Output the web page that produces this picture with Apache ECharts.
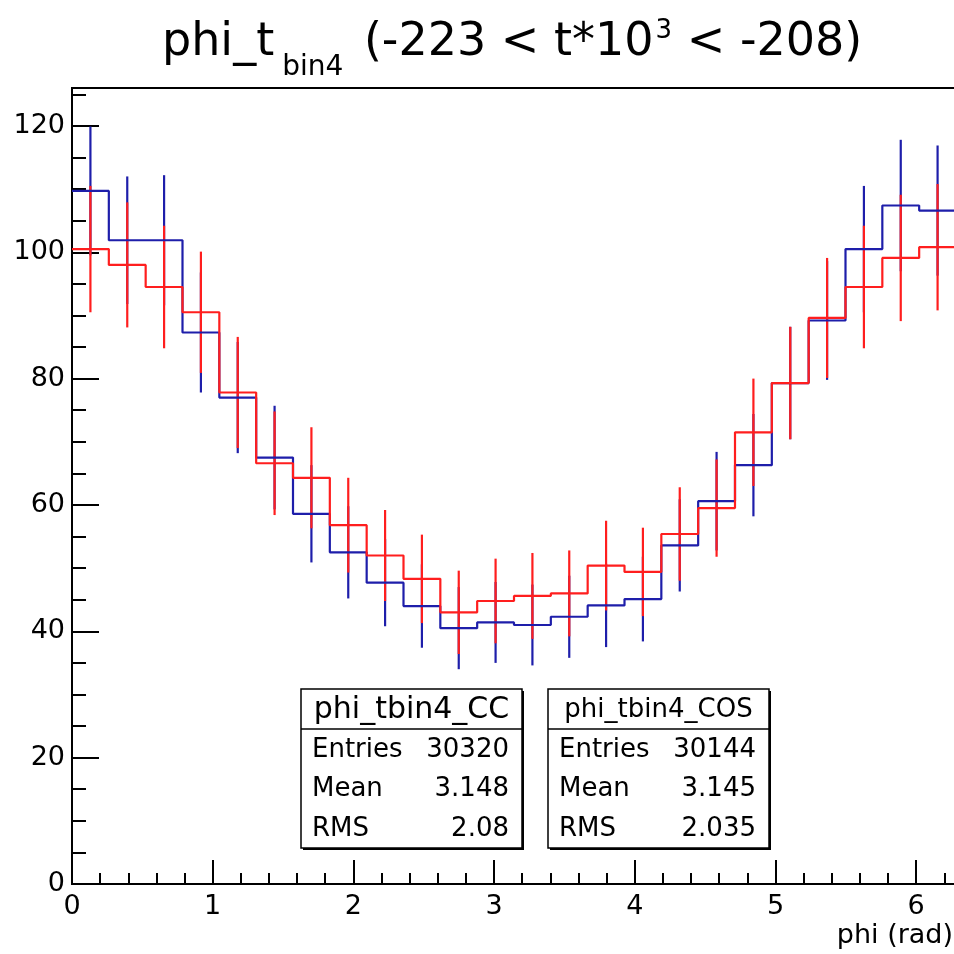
<!DOCTYPE html>
<html>
<head>
<meta charset="utf-8">
<script src="https://cdn.jsdelivr.net/npm/echarts@6/dist/echarts.min.js"></script>
<style>
  html, body { margin: 0; padding: 0; background: #fff; }
  #phiChart { width: 954px; height: 954px; }
</style>
</head>
<body>
<div id="phiChart"></div>
<script>
// phi histogram, 24 bins over 0..2pi
var nBins = 24;
var phiMax = 2 * Math.PI;

// blue histogram (bin contents, errors)
var blueVals = [109.7, 101.9, 101.9, 87.3, 77.0, 67.5, 58.6, 52.5, 47.7, 44.0, 40.5, 41.4,
  41.0, 42.3, 44.1, 45.1, 53.6, 60.6, 66.3, 79.3, 89.2, 100.5, 107.4, 106.6];
var blueErrs = [10.2, 10.1, 10.3, 9.5, 8.8, 8.2, 7.7, 7.3, 6.9, 6.6, 6.5, 6.4,
  6.4, 6.5, 6.6, 6.7, 7.3, 7.8, 8.1, 8.9, 9.4, 10.0, 10.4, 10.3];

// red histogram
var redVals = [100.5, 98.0, 94.5, 90.5, 77.8, 66.6, 64.3, 56.8, 52.0, 48.3, 43.0, 44.8,
  45.6, 46.0, 50.4, 49.4, 55.4, 59.5, 71.5, 79.3, 89.6, 94.5, 99.1, 100.8];
var redErrs = [10.0, 9.9, 9.7, 9.6, 8.8, 8.2, 8.0, 7.5, 7.2, 7.0, 6.6, 6.7,
  6.8, 6.8, 7.1, 7.0, 7.4, 7.7, 8.5, 8.9, 9.5, 9.7, 10.0, 10.0];

// stat boxes
var statLabels = ['Entries', 'Mean', 'RMS'];
var statsCC = ['30320', '3.148', '2.08'];
var statsCOS = ['30144', '3.145', '2.035'];

var FONT = 'DejaVu Sans';
var BLUE = '#1e1eaa';
var RED = '#ff1e1e';
var binW = phiMax / nBins;

function stepData(vals) {
  var out = [];
  for (var i = 0; i < vals.length; i++) out.push([i * binW, vals[i]]);
  out.push([phiMax, vals[vals.length - 1]]);
  return out;
}

function errData(vals, errs) {
  var out = [];
  for (var i = 0; i < vals.length; i++) {
    out.push([(i + 0.5) * binW, vals[i] - errs[i], vals[i] + errs[i]]);
  }
  return out;
}

function errSeries(name, vals, errs, color) {
  return {
    name: name,
    type: 'custom',
    xAxisIndex: 0,
    yAxisIndex: 0,
    data: errData(vals, errs),
    encode: { x: 0, y: [1, 2] },
    renderItem: function (params, api) {
      var p1 = api.coord([api.value(0), api.value(1)]);
      var p2 = api.coord([api.value(0), api.value(2)]);
      return {
        type: 'line',
        shape: { x1: p1[0], y1: p1[1], x2: p2[0], y2: p2[1] },
        style: { stroke: color, lineWidth: 2.2 }
      };
    }
  };
}

function stepSeries(name, vals, color) {
  return {
    name: name,
    type: 'line',
    step: 'end',
    xAxisIndex: 0,
    yAxisIndex: 0,
    showSymbol: false,
    symbol: 'none',
    data: stepData(vals),
    lineStyle: { color: color, width: 2.2 }
  };
}

// stat box as graphic group
function statBox(x, w, title, titleSize, vals) {
  var top = 689, h = 159;
  var rowY = [749, 788, 828];
  var kids = [
    { type: 'rect', shape: { x: x + 2, y: top + 2, width: w, height: h }, style: { fill: '#000' } },
    { type: 'rect', shape: { x: x, y: top, width: w, height: h }, style: { fill: '#fff', stroke: '#000', lineWidth: 1.5 } },
    { type: 'line', shape: { x1: x, y1: 729, x2: x + w, y2: 729 }, style: { stroke: '#000', lineWidth: 1.5 } },
    { type: 'text', x: x + w / 2, y: 710, style: { text: title, font: titleSize + 'px "' + FONT + '"', fill: '#000', align: 'center', verticalAlign: 'middle' } }
  ];
  for (var i = 0; i < statLabels.length; i++) {
    kids.push({ type: 'text', x: x + 11, y: rowY[i] + 1, style: { text: statLabels[i], font: '26px "' + FONT + '"', fill: '#000', align: 'left', verticalAlign: 'middle' } });
    kids.push({ type: 'text', x: x + w - 13, y: rowY[i] + 1, style: { text: vals[i], font: '26px "' + FONT + '"', fill: '#000', align: 'right', verticalAlign: 'middle' } });
  }
  return { type: 'group', children: kids, z: 100 };
}

var axisBlack = { color: '#000', width: 2 };

var option = {
  animation: false,
  backgroundColor: '#fff',
  title: {
    text: 'phi_t{sub|bin4} (-223 < t*10{sup|3} < -208)',
    left: 162,
    top: 5,
    padding: 0,
    textStyle: {
      fontFamily: FONT,
      fontSize: 46,
      fontWeight: 'normal',
      color: '#000',
      lineHeight: 77,
      rich: {
        sub: { fontFamily: FONT, fontSize: 28, lineHeight: 24, verticalAlign: 'bottom', padding: [0, 6, 0, 8] },
        sup: { fontFamily: FONT, fontSize: 26, lineHeight: 26, verticalAlign: 'top', padding: [13, 0, 0, 2] }
      }
    }
  },
  grid: {
    left: 72,
    top: 88,
    right: -2,
    bottom: 70,
    outerBoundsMode: 'none',
    containLabel: false,
    show: true,
    borderColor: '#000',
    borderWidth: 2,
    backgroundColor: 'transparent'
  },
  xAxis: [
    {
      type: 'value',
      min: 0,
      max: phiMax,
      interval: 1,
      position: 'bottom',
      axisLine: { lineStyle: axisBlack },
      axisTick: { inside: true, length: 24, lineStyle: axisBlack },
      axisLabel: { fontFamily: FONT, fontSize: 27, color: '#000', margin: 9, showMaxLabel: false },
      splitLine: { show: false }
    },
    {
      type: 'value',
      min: 0,
      max: phiMax,
      interval: 0.2,
      position: 'bottom',
      axisLine: { show: false },
      axisTick: { inside: true, length: 11, lineStyle: axisBlack },
      axisLabel: { show: false },
      splitLine: { show: false }
    }
  ],
  yAxis: [
    {
      type: 'value',
      min: 0,
      max: 126,
      interval: 20,
      position: 'left',
      axisLine: { show: true, lineStyle: axisBlack },
      axisTick: { show: true, inside: true, length: 27, lineStyle: axisBlack },
      axisLabel: { fontFamily: FONT, fontSize: 27, color: '#000', margin: 7, showMaxLabel: false },
      splitLine: { show: false }
    },
    {
      type: 'value',
      min: 0,
      max: 126,
      interval: 5,
      position: 'left',
      axisLine: { show: false },
      axisTick: { show: true, inside: true, length: 14, lineStyle: axisBlack },
      axisLabel: { show: false },
      splitLine: { show: false }
    }
  ],
  series: [
    stepSeries('phi_tbin4_CC', blueVals, BLUE),
    errSeries('phi_tbin4_CC err', blueVals, blueErrs, BLUE),
    stepSeries('phi_tbin4_COS', redVals, RED),
    errSeries('phi_tbin4_COS err', redVals, redErrs, RED)
  ],
  graphic: [
    statBox(301, 221, 'phi_tbin4_CC', 30, statsCC),
    statBox(548, 221, 'phi_tbin4_COS', 26, statsCOS),
    {
      type: 'text',
      right: 1,
      top: 922,
      style: { text: 'phi (rad)', font: '27px "' + FONT + '"', fill: '#000' }
    }
  ]
};

var phiChart = echarts.init(document.getElementById('phiChart'));
phiChart.setOption(option);
</script>
</body>
</html>
